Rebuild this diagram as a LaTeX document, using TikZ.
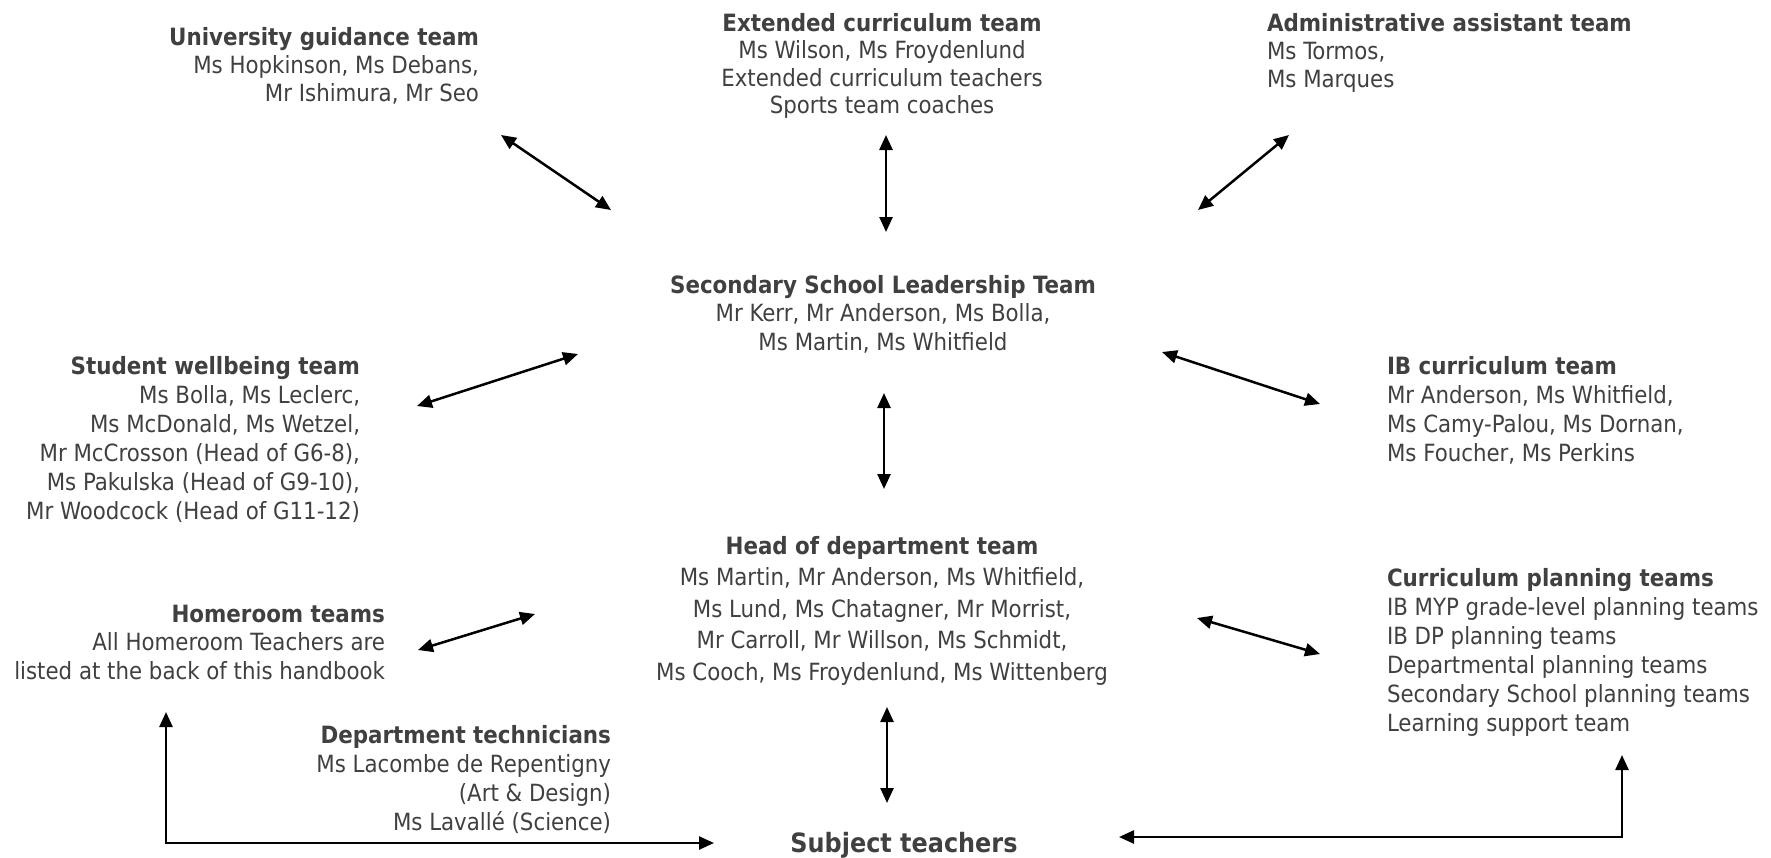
\documentclass[tikz,border=0pt]{standalone}
\usepackage{fontspec}
\setmainfont{DejaVu Sans Condensed}
\usetikzlibrary{arrows.meta}
\definecolor{txt}{HTML}{404040}
\newcommand\ts{\rule{0pt}{20pt}}
\newcommand\tb[1]{{\fontsize{23.8}{29}\selectfont\bfseries #1}}
\begin{document}
\begin{tikzpicture}[x=1pt,y=-1pt,
  blk/.style={inner sep=0pt, outer sep=0pt, text=txt, font=\fontsize{23.7}{29}\selectfont},
  blkr/.style={blk, align=right, anchor=north east},
  blkl/.style={blk, align=left, anchor=north west},
  blkc/.style={blk, align=center, anchor=north},
  tip/.tip={Triangle[length=15pt,width=13pt]},
  link/.style={line width=2.5pt, tip-tip}
]
\useasboundingbox (0,0) rectangle (1771,857);

\node[blkr, font=\fontsize{23.7}{28}\selectfont] (ugt) at (479,25) {\ts\tb{University guidance team}\\Ms Hopkinson, Ms Debans,\\Mr Ishimura, Mr Seo};
\node[blkc, font=\fontsize{23.7}{27.5}\selectfont] (ect) at (882,11) {\ts\tb{Extended curriculum team}\\Ms Wilson, Ms Froydenlund\\Extended curriculum teachers\\Sports team coaches};
\node[blkl, font=\fontsize{23.7}{28}\selectfont] (aat) at (1267,11) {\ts\tb{Administrative assistant team}\\Ms Tormos,\\Ms Marques};
\node[blkc, font=\fontsize{23.7}{28.5}\selectfont] (sslt) at (883,273) {\ts\tb{Secondary School Leadership Team}\\Mr Kerr, Mr Anderson, Ms Bolla,\\Ms Martin, Ms Whitfield};
\node[blkr] (swt) at (360,354) {\ts\tb{Student wellbeing team}\\Ms Bolla, Ms Leclerc,\\Ms McDonald, Ms Wetzel,\\Mr McCrosson (Head of G6-8),\\Ms Pakulska (Head of G9-10),\\Mr Woodcock (Head of G11-12)};
\node[blkl] (ib) at (1387,354) {\ts\tb{IB curriculum team}\\Mr Anderson, Ms Whitfield,\\Ms Camy-Palou, Ms Dornan,\\Ms Foucher, Ms Perkins};
\node[blkc, font=\fontsize{23.7}{31.5}\selectfont] (hod) at (882,534) {\ts\tb{Head of department team}\\Ms Martin, Mr Anderson, Ms Whitfield,\\Ms Lund, Ms Chatagner, Mr Morrist,\\Mr Carroll, Mr Willson, Ms Schmidt,\\Ms Cooch, Ms Froydenlund, Ms Wittenberg};
\node[blkr, font=\fontsize{23.7}{28.5}\selectfont] (hr) at (385,602) {\ts\tb{Homeroom teams}\\All Homeroom Teachers are\\listed at the back of this handbook};
\node[blkl] (cpt) at (1387,566) {\ts\tb{Curriculum planning teams}\\IB MYP grade-level planning teams\\IB DP planning teams\\Departmental planning teams\\Secondary School planning teams\\Learning support team};
\node[blkr] (dt) at (611,723) {\ts\tb{Department technicians}\\Ms Lacombe de Repentigny\\(Art \& Design)\\Ms Lavallé (Science)};
\node[blkc, font=\fontsize{26.6}{32}\selectfont\bfseries] (st) at (904,829) {\rule{0pt}{23pt}Subject teachers};

% arrow end points
\coordinate (a1) at (501,135); \coordinate (a2) at (611,210);
\coordinate (b1) at (886,135); \coordinate (b2) at (886,232);
\coordinate (c1) at (1289,135); \coordinate (c2) at (1198,210);
\coordinate (d1) at (417,406); \coordinate (d2) at (578,354);
\coordinate (e1) at (1162,352); \coordinate (e2) at (1320,404);
\coordinate (f1) at (884,393); \coordinate (f2) at (884,489);
\coordinate (g1) at (418,650); \coordinate (g2) at (535,614);
\coordinate (h1) at (1197,618); \coordinate (h2) at (1320,654);
\coordinate (i1) at (887,707); \coordinate (i2) at (887,803);
\coordinate (j1) at (166,712); \coordinate (j2) at (166,843); \coordinate (j3) at (714,843);
\coordinate (k1) at (1119,837); \coordinate (k2) at (1622,837); \coordinate (k3) at (1622,755);

\draw[link] (a1) -- (a2);
\draw[link] (b1) -- (b2);
\draw[link] (c1) -- (c2);
\draw[link] (d1) -- (d2);
\draw[link] (e1) -- (e2);
\draw[link] (f1) -- (f2);
\draw[link] (g1) -- (g2);
\draw[link] (h1) -- (h2);
\draw[link] (i1) -- (i2);
\draw[link] (j1) -- (j2) -- (j3);
\draw[link] (k1) -- (k2) -- (k3);
\end{tikzpicture}
\end{document}
